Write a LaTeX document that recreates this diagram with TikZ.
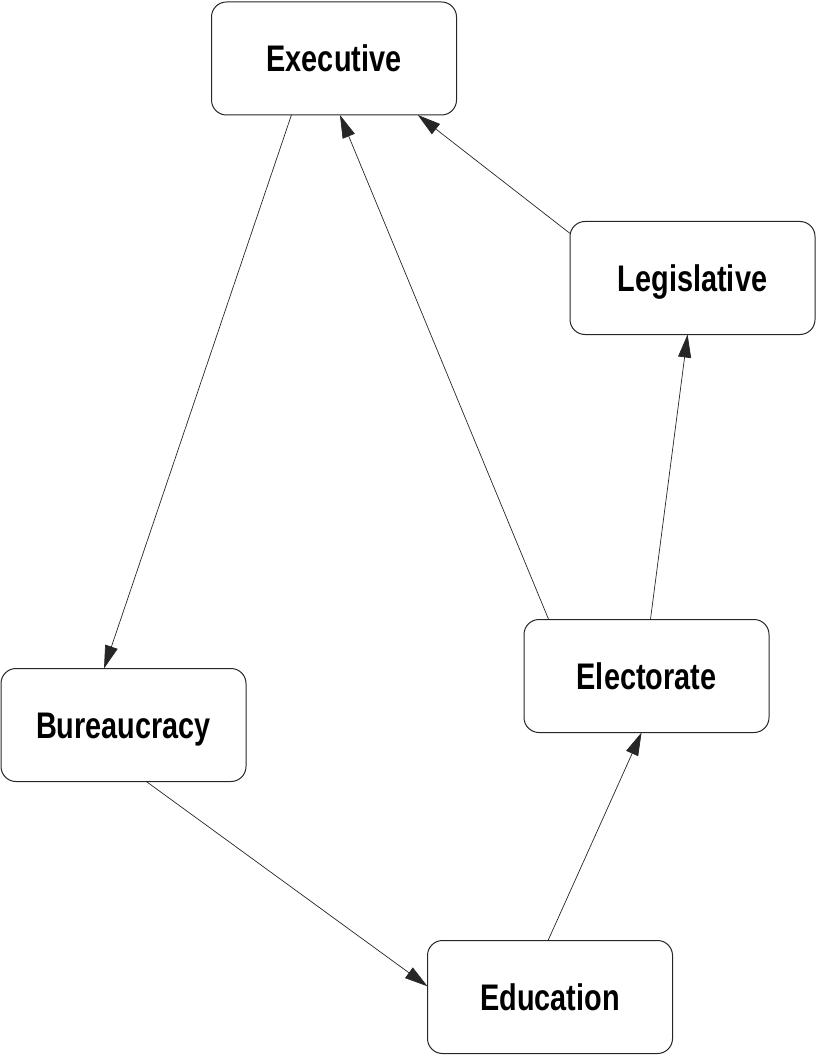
\documentclass[tikz,border=0pt]{standalone}
\usepackage{fontspec}
\setmainfont{Liberation Sans}[FakeStretch=0.78]
\usepackage{tikz}
\usetikzlibrary{arrows.meta,positioning}

\tikzset{
  branch/.style={draw=black!85, line width=1pt, rounded corners=15pt,
    minimum width=245pt, minimum height=113pt, outer sep=0pt,
    text height=30pt, text depth=3pt,
    font=\fontsize{37}{42}\selectfont\bfseries},
  link/.style={draw=black!85, line width=0.7pt,
    -{Triangle[length=23pt,width=13pt]}}
}

\begin{document}
\begin{tikzpicture}[x=1pt,y=-1pt]
\useasboundingbox (0,0) rectangle (816,1056);

\node[branch] (exec) at (334,58.5) {Executive};
\node[branch] (legis) at (692.5,278) {Legislative};
\node[branch] (elect) at (646.5,676) {Electorate};
\node[branch] (bureau) at (123.5,725) {Bureaucracy};
\node[branch] (edu) at (550,997) {Education};

\draw[link] (exec.233) -- (bureau.109);
\draw[link] (elect.150.4) -- (exec.276);
\draw[link] (legis.160.9) -- (exec.326);
\draw[link] (elect.86.5) -- (legis.265.5);
\draw[link] (bureau.292.4) -- (edu.175.3);
\draw[link] (edu.92) -- (elect.265.5);
\end{tikzpicture}
\end{document}
